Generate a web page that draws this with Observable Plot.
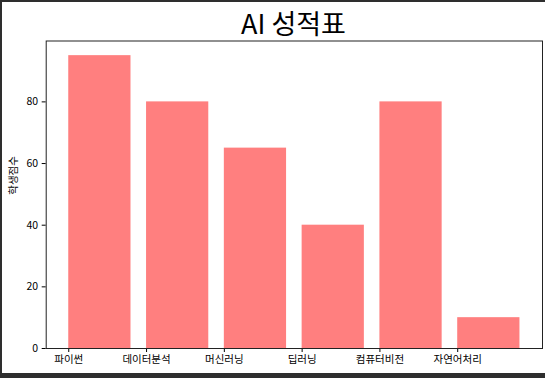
<!DOCTYPE html>
<html><head><meta charset="utf-8">
<script src="https://cdn.jsdelivr.net/npm/d3@7"></script>
<script src="https://cdn.jsdelivr.net/npm/@observablehq/plot@0.6"></script>
<style>
html,body{margin:0;padding:0;background:#2e2e2e;width:545px;height:378px;overflow:hidden;}
#fig{position:absolute;left:2px;top:2px;width:543px;height:371px;background:#fff;font-family:"Noto Sans CJK KR","Noto Sans",sans-serif;}
#title{position:absolute;left:0;width:583px;top:5px;text-align:center;font-size:27px;line-height:31px;color:#000;}
#chart{position:absolute;left:0;top:0;}
</style></head>
<body>
<div id="fig"><div id="chart"></div><div id="title">AI 성적표</div></div>
<script>
const categories = ["파이썬", "데이터분석", "머신러닝", "딥러닝", "컴퓨터비전", "자연어처리"];
const scores = [95, 80, 65, 40, 80, 10];
const yTicks = [0, 20, 40, 60, 80];
const yLabel = "학생점수";

const barWidth = 0.8;
const data = categories.map((c, i) => ({i, c, v: scores[i]}));
const xMax = categories.length - 1 + barWidth;
const pad = 0.05 * xMax;
const yTop = d3.max(scores) * 1.05;

const chart = Plot.plot({
  width: 543,
  height: 371,
  marginLeft: 43.7,
  marginRight: 3,
  marginTop: 38.5,
  marginBottom: 25,
  style: {fontFamily: '"Noto Sans CJK KR","Noto Sans",sans-serif', fontSize: "10.5px", color: "#000", background: "#fff"},
  x: {type: "linear", domain: [-pad, xMax + pad]},
  y: {domain: [0, yTop]},
  marks: [
    Plot.rectY(data, {x1: "i", x2: d => d.i + barWidth, y1: 0, y2: "v", fill: "#ff7f7f", inset: 0}),
    Plot.axisX({ticks: d3.range(categories.length), tickFormat: i => categories[i], tickSize: 4, tickPadding: 3, label: null, stroke: "#000", fill: "#000"}),
    Plot.axisY({ticks: yTicks, tickSize: 4, tickPadding: 4, label: null, stroke: "#000", fill: "#000"}),
    Plot.text([yLabel], {frameAnchor: "left", rotate: -90, dx: -33, fontSize: 10.5, fill: "#000"}),
    Plot.frame({stroke: "#222", strokeWidth: 1})
  ]
});
document.getElementById("chart").appendChild(chart);
</script>
</body></html>
